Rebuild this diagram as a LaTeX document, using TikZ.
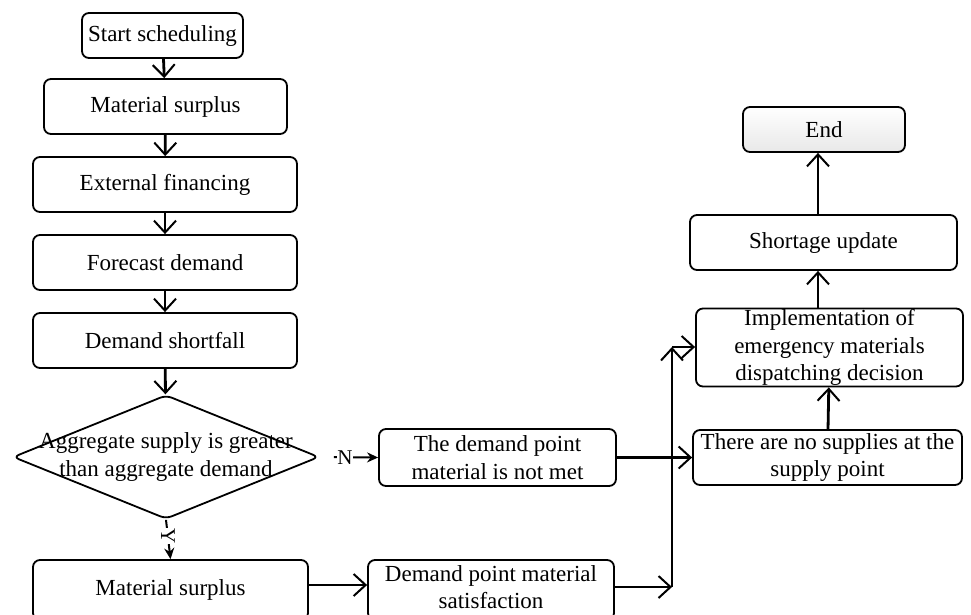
\documentclass[tikz,border=0pt]{standalone}
\usepackage{fontspec}
\setmainfont{Liberation Serif}
\usetikzlibrary{arrows.meta,shapes.geometric}
\begin{document}
\begin{tikzpicture}[x=1pt,y=-1pt,
  every node/.style={font=\fontsize{23}{27.5}\selectfont},
  box/.style={draw, line width=1.8pt, rounded corners=7pt, align=center, inner sep=0pt},
  arr/.style={line width=2.8pt, -{Straight Barb[length=12pt,width=22pt,line width=2pt]}},
  lab/.style={line width=2pt, -{Stealth[length=11pt,width=10pt]}},
  tag/.style={font=\fontsize{21}{24}\selectfont, fill=white, inner sep=0.5pt}
]
\useasboundingbox (0,0) rectangle (971,614);

% left column
\node[box, minimum width=161pt, minimum height=45pt] (start) at (162.5,35.5) {Start scheduling};
\node[box, minimum width=243pt, minimum height=55pt] (ms1) at (165.5,106.5) {Material surplus};
\node[box, minimum width=264pt, minimum height=55pt] (ef) at (165,184.5) {External financing};
\node[box, minimum width=264pt, minimum height=55pt] (fd) at (165,262.5) {Forecast demand};
\node[box, minimum width=264pt, minimum height=55pt] (ds) at (165,340.5) {Demand shortfall};
\node[draw, diamond, line width=1.8pt, rounded corners=6pt, inner sep=0pt,
      minimum width=306pt, minimum height=124pt] (dec) at (166,457) {};
\node[align=center, inner sep=0pt] (dect) at (166,457) {Aggregate supply is greater\\than aggregate demand};
\node[box, minimum width=275pt, minimum height=60pt] (ms2) at (170.5,590) {Material surplus};

% middle column
\node[box, minimum width=237pt, minimum height=57pt] (nm) at (497.5,457.5) {The demand point\\material is not met};
\node[box, minimum width=246pt, minimum height=60pt] (sat) at (491,590) {Demand point material\\satisfaction\\[-22pt]\mbox{}};

% right column
\node[box, minimum width=162pt, minimum height=45pt, top color=white, bottom color=gray!18] (end) at (824,129.5) {End};
\node[box, minimum width=267pt, minimum height=55pt] (su) at (823.5,242.5) {Shortage update};
\node[box, minimum width=267pt, minimum height=78pt] (impl) at (829.5,347.5) {Implementation of\\emergency materials\\dispatching decision};
\node[box, minimum width=269pt, minimum height=55pt] (nos) at (827.5,457.5) {There are no supplies at the\\supply point};

\coordinate (jb) at (672,587);
\coordinate (jt) at (672,347);

% connectors
\draw[arr] (start) -- (ms1);
\draw[arr] (ms1) -- (ef);
\draw[arr] (ef) -- (fd);
\draw[arr] (fd) -- (ds);
\draw[arr] (ds) -- (dec);
\draw[lab, shorten <=14pt] (dec.east) -- node[tag, pos=0.43]{N} (nm.west);
\draw[lab] (dec.south) -- node[tag, rotate=-90, pos=0.42]{Y} (ms2.north);
\draw[arr] (ms2.east |- 0,585) -- (sat.west |- 0,585);
\draw[arr] (nm) -- (nos);
\draw[arr] (sat.east |- jb) -- (jb);
\draw[arr] (jb) -- (jt);
\draw[arr] (jt) -- (impl.west |- jt);
\draw[arr] (nos) -- (impl);
\draw[arr] (impl.north -| 818,0) -- (su.south -| 818,0);
\draw[arr] (su.north -| 818,0) -- (end.south -| 818,0);
\end{tikzpicture}
\end{document}
